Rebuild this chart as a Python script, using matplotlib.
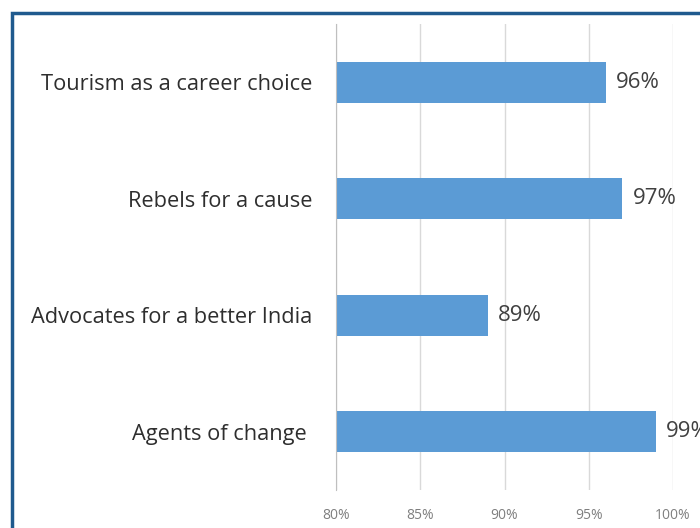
import matplotlib
matplotlib.use("Agg")
import matplotlib.pyplot as plt
from matplotlib.patches import Rectangle

categories = ["Tourism as a career choice", "Rebels for a cause",
              "Advocates for a better India", "Agents of change "]
values = [96, 97, 89, 99]
value_labels = ["96%", "97%", "89%", "99%"]
ticks = [80, 85, 90, 95, 100]
tick_labels = ["80%", "85%", "90%", "95%", "100%"]

plt.rcParams["font.family"] = ["Open Sans", "DejaVu Sans"]

W, H = 700, 528
fig = plt.figure(figsize=(W / 100, H / 100), dpi=100)
ax = fig.add_axes([336 / W, 1 - 490 / H, (673 - 336) / W, (490 - 24) / H])

ypos = list(range(len(categories)))
ax.barh(ypos, [v - 80 for v in values], left=80, height=0.35,
        color="#5B9BD5", zorder=3)
for y, v, lab in zip(ypos, values, value_labels):
    ax.text(v + 0.6, y, lab, va="center", ha="left", fontsize=16,
            color="#404040", zorder=4)

ax.set_xlim(80, 100)
ax.set_ylim(len(categories) - 0.5, -0.5)
ax.set_xticks(ticks)
ax.set_xticklabels(tick_labels, fontsize=10, color="#7f7f7f")
ax.set_yticks(ypos)
ax.set_yticklabels(categories, fontsize=15.7, color="#2e2e2e")
ax.tick_params(axis="both", length=0)
ax.tick_params(axis="y", pad=17)
ax.tick_params(axis="x", pad=13)
ax.xaxis.grid(True, color="#d9d9d9", linewidth=1, zorder=0)
ax.set_axisbelow(True)
for s in ["top", "right", "bottom"]:
    ax.spines[s].set_visible(False)
ax.spines["left"].set_color("#bfbfbf")
ax.spines["left"].set_zorder(5)

# frame around the chart area
fig.patches.append(Rectangle((12 / W, -0.1), 1.2, 1 - 13 / H + 0.1,
                             transform=fig.transFigure, fill=False,
                             edgecolor="#1F5A8E", linewidth=2.5, zorder=10))

fig.savefig("out.png", dpi=100, facecolor="white")
